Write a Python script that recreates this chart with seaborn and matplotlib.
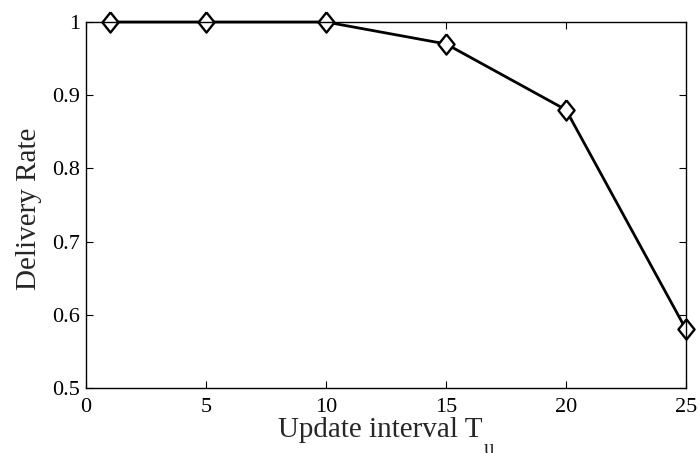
import matplotlib
matplotlib.use("Agg")
import matplotlib.pyplot as plt
import seaborn as sns
import pandas as pd

update_interval = [1, 5, 10, 15, 20, 25]
delivery_rate = [1.0, 1.0, 1.0, 0.97, 0.88, 0.58]
x_ticks = [0, 5, 10, 15, 20, 25]
y_ticks = [0.5, 0.6, 0.7, 0.8, 0.9, 1.0]
y_tick_labels = ["0.5", "0.6", "0.7", "0.8", "0.9", "1"]

sns.set_style("ticks")
plt.rcParams["font.family"] = ["Liberation Serif", "DejaVu Serif"]

df = pd.DataFrame({"interval": update_interval, "rate": delivery_rate})

# slightly tall, open diamond marker
diamond = [(0, 1), (0.8, 0), (0, -1), (-0.8, 0), (0, 1)]

fig = plt.figure(figsize=(7.0, 4.53), dpi=100)
ax = fig.add_axes([86 / 700, 1 - 388 / 453, 600 / 700, 366 / 453])

sns.lineplot(data=df, x="interval", y="rate", ax=ax, color="black",
             linewidth=2.0, marker=diamond, markersize=14.5,
             markerfacecolor="white", markeredgecolor="black",
             markeredgewidth=1.7, clip_on=False)

ax.set_xlim(0, 25)
ax.set_ylim(0.5, 1.0)
ax.set_xticks(x_ticks)
ax.set_xticklabels([str(t) for t in x_ticks])
ax.set_yticks(y_ticks)
ax.set_yticklabels(y_tick_labels)
ax.tick_params(direction="in", length=5, width=0.8, labelsize=16,
               top=True, right=True, colors="black")
ax.tick_params(axis="x", pad=7)
ax.tick_params(axis="y", pad=4)
for s in ax.spines.values():
    s.set_visible(True)
    s.set_linewidth(1.0)
    s.set_color("black")

ax.set_xlabel("Update interval T", fontsize=21)
ax.xaxis.set_label_coords(0.49, -0.078)
ax.annotate("u", xy=(1.0, 0.0), xycoords=ax.xaxis.label,
            xytext=(1, 2), textcoords="offset points",
            ha="left", va="top", fontsize=15)
ax.set_ylabel("Delivery Rate", fontsize=21)
ax.yaxis.set_label_coords(-0.074, 0.49)
ax.grid(False)

fig.savefig("out.png", dpi=100)
